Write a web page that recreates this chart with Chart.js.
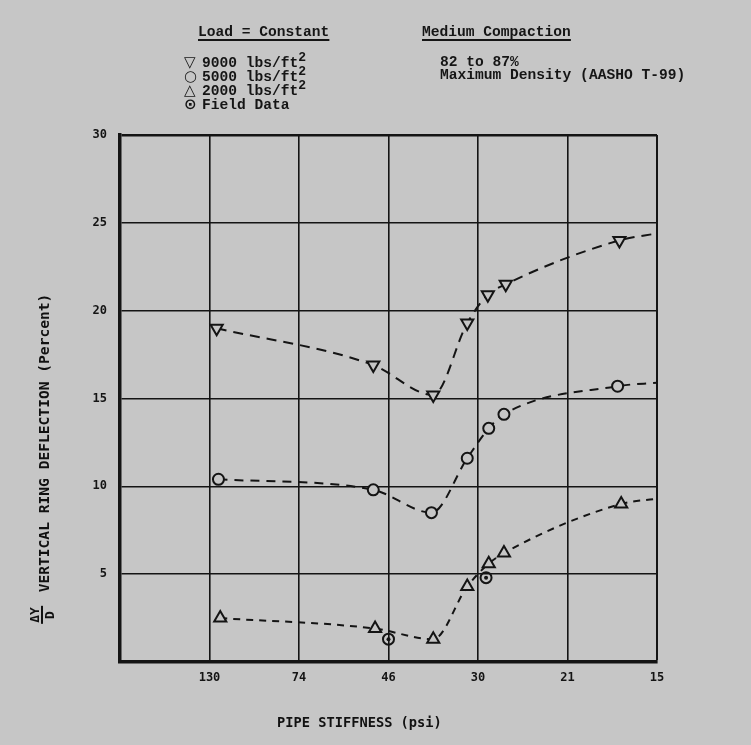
<!DOCTYPE html>
<html>
<head>
<meta charset="utf-8">
<script src="https://cdn.jsdelivr.net/npm/chart.js@4/dist/chart.umd.min.js"></script>
<style>
    body { margin: 0; background: #c6c6c6; }
    #page { position: relative; width: 751px; height: 745px; overflow: hidden; background: #c6c6c6; color: #151515; }
    #page canvas { position: absolute; left: 0; top: 0; }
    .txt { position: absolute; white-space: pre; font-family: "Liberation Mono", monospace; font-size: 14.6px; font-weight: bold; line-height: 14px; }
    .head { text-decoration: underline; text-decoration-thickness: 2px; text-underline-offset: 3px; }
    .sym { font-family: "DejaVu Sans", sans-serif; font-weight: bold; display: inline-block; width: 18px; font-size: 15px; }
    .sup { position: relative; top: -6px; font-size: 13px; }
    .axt { position: absolute; white-space: pre; font-family: "DejaVu Sans Mono", monospace; font-weight: bold; color: #111; }
</style>
</head>
<body>
<div id="page">
    <canvas id="chart" width="751" height="745"></canvas>

    <div class="txt head" style="left:198px; top:25px;">Load = Constant</div>
    <div class="txt" style="left:184px; top:55px;"><span class="sym">▽</span>9000 lbs/ft<span class="sup">2</span></div>
    <div class="txt" style="left:184px; top:69px;"><span class="sym">○</span>5000 lbs/ft<span class="sup">2</span></div>
    <div class="txt" style="left:184px; top:83px;"><span class="sym">△</span>2000 lbs/ft<span class="sup">2</span></div>
    <div class="txt" style="left:184px; top:97px;"><span class="sym">⊙</span>Field Data</div>

    <div class="txt head" style="left:422px; top:25px;">Medium Compaction</div>
    <div class="txt" style="left:440px; top:55px;">82 to 87%</div>
    <div class="txt" style="left:440px; top:68px;">Maximum Density (AASHO T-99)</div>

    <div class="axt" style="left:277px; top:714px; font-size:13.7px;">PIPE STIFFNESS (psi)</div>
    <div class="axt" style="left:43px; top:443px; font-size:14.6px; transform: translate(-50%,-50%) rotate(-90deg);">VERTICAL RING DEFLECTION (Percent)</div>
    <div class="axt" style="left:42px; top:615px; font-size:13px; line-height:13px; text-align:center; transform: translate(-50%,-50%) rotate(-90deg);"><div style="border-bottom:2px solid #111; padding:0 1px;">ΔY</div><div>D</div></div>
</div>

<script>
// x positions are gridline indexes (0 = left edge, 1 = "130" ... 6 = "15")
const xTickLabels = ['', '130', '74', '46', '30', '21', '15'];
const yTicks = [0, 5, 10, 15, 20, 25, 30];

// 9000 lbs/ft2 (last point only carries the curve to the edge)
const pos9000 = [1.08, 2.83, 3.50, 3.88, 4.11, 4.31, 5.58, 6.0];
const defl9000 = [19.0, 16.9, 15.2, 19.3, 20.9, 21.5, 24.0, 24.4];

// 5000 lbs/ft2
const pos5000 = [1.10, 2.83, 3.48, 3.88, 4.12, 4.29, 5.56, 6.0];
const defl5000 = [10.4, 9.8, 8.5, 11.6, 13.3, 14.1, 15.7, 15.9];

// 2000 lbs/ft2
const pos2000 = [1.12, 2.85, 3.50, 3.88, 4.12, 4.29, 5.60, 6.0];
const defl2000 = [2.5, 1.9, 1.3, 4.3, 5.6, 6.2, 9.0, 9.3];

// field data
const posField = [3.0, 4.09];
const deflField = [1.3, 4.8];

const BG = '#c6c6c6';
const INK = '#141414';

function points(xs, ys){
    return xs.map((x, i) => ({x: x, y: ys[i]}));
}

function curve(label, xs, ys, style, radius, rotation, dash){
    const last = xs.length - 1;
    return {
        label: label,
        data: points(xs, ys),
        showLine: true,
        cubicInterpolationMode: 'monotone',
        borderColor: INK,
        borderWidth: 2,
        borderDash: dash,
        pointStyle: style,
        pointRotation: rotation,
        pointRadius: ctx => ctx.dataIndex === last ? 0 : radius,
        pointBorderWidth: 2,
        pointBorderColor: INK,
        pointBackgroundColor: BG
    };
}

new Chart(document.getElementById('chart'), {
    type: 'scatter',
    data: {
        datasets: [
            {
                // centre dot of the field data marker
                label: 'dot',
                data: points(posField, deflField),
                showLine: false,
                pointStyle: 'circle',
                pointRadius: 2,
                pointBorderWidth: 0,
                pointBorderColor: INK,
                pointBackgroundColor: INK
            },
            {
                label: 'Field Data',
                data: points(posField, deflField),
                showLine: false,
                pointStyle: 'circle',
                pointRadius: 5.5,
                pointBorderWidth: 2,
                pointBorderColor: INK,
                pointBackgroundColor: 'rgba(0,0,0,0)'
            },
            curve('9000 lbs/ft2', pos9000, defl9000, 'triangle', 7, 180, [10, 7]),
            curve('5000 lbs/ft2', pos5000, defl5000, 'circle', 5.5, 0, [9, 7]),
            curve('2000 lbs/ft2', pos2000, defl2000, 'triangle', 7, 0, [7, 6])
        ]
    },
    options: {
        responsive: false,
        animation: false,
        layout: { padding: { top: 135, right: 94, bottom: 0, left: 0 } },
        plugins: {
            legend: { display: false },
            tooltip: { enabled: false }
        },
        scales: {
            x: {
                type: 'linear',
                min: 0,
                max: 6,
                afterFit: scale => { scale.height = 83; },
                afterBuildTicks: scale => { scale.ticks = xTickLabels.map((l, i) => ({value: i})); },
                ticks: {
                    padding: 9,
                    color: INK,
                    font: { family: 'DejaVu Sans Mono', size: 12, weight: 'bold' },
                    callback: v => xTickLabels[v]
                },
                grid: {
                    drawTicks: false,
                    color: INK,
                    lineWidth: ctx => ctx.index === 6 ? 2 : 1.6
                },
                border: { display: true, width: 3.5, color: INK }
            },
            y: {
                min: 0,
                max: 30,
                afterFit: scale => { scale.width = 120; },
                afterBuildTicks: scale => { scale.ticks = yTicks.map(v => ({value: v})); },
                ticks: {
                    padding: 13,
                    color: INK,
                    font: { family: 'DejaVu Sans Mono', size: 12, weight: 'bold' },
                    callback: v => v === 0 ? '' : String(v)
                },
                grid: {
                    drawTicks: false,
                    color: INK,
                    lineWidth: ctx => ctx.index === 6 ? 2.5 : 1.6
                },
                border: { display: true, width: 3.5, color: INK }
            }
        }
    }
});
</script>
</body>
</html>
